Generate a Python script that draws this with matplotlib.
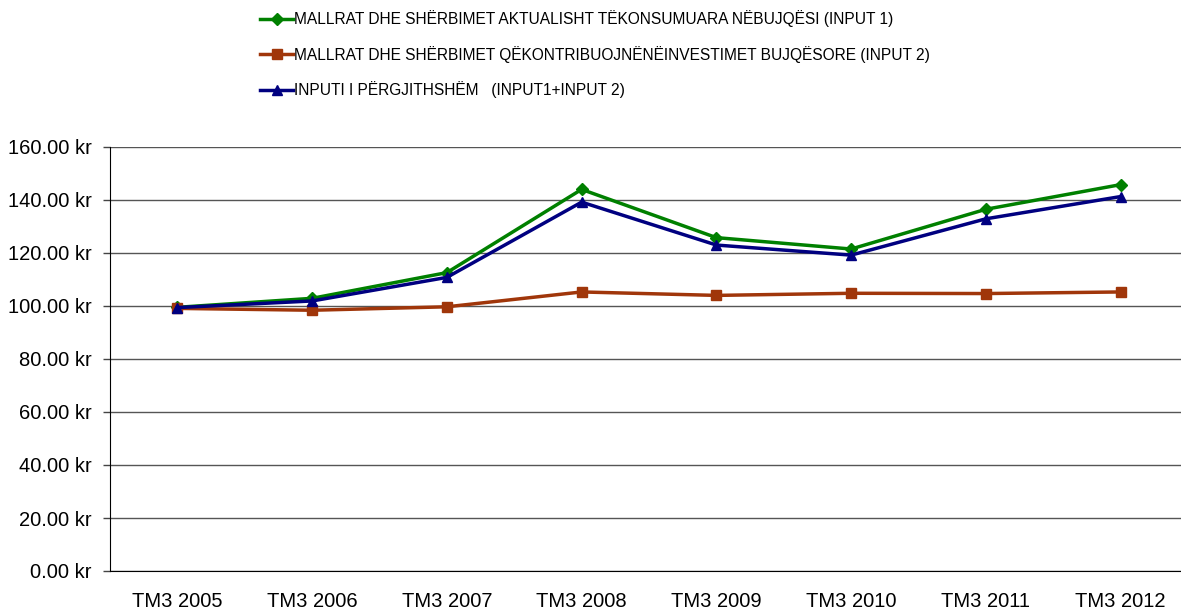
import matplotlib.pyplot as plt

categories = ['TM3 2005', 'TM3 2006', 'TM3 2007', 'TM3 2008',
              'TM3 2009', 'TM3 2010', 'TM3 2011', 'TM3 2012']
input1 = [99.5, 102.9, 112.6, 144.0, 125.8, 121.5, 136.5, 145.8]
input2 = [99.1, 98.4, 99.7, 105.3, 104.0, 104.8, 104.7, 105.3]
total = [99.4, 101.9, 110.8, 139.2, 123.0, 119.2, 132.9, 141.3]
labels = [
    'MALLRAT DHE SHËRBIMET AKTUALISHT TËKONSUMUARA NËBUJQËSI (INPUT 1)',
    'MALLRAT DHE SHËRBIMET QËKONTRIBUOJNËNËINVESTIMET BUJQËSORE (INPUT 2)',
    'INPUTI I PËRGJITHSHËM   (INPUT1+INPUT 2)',
]

plt.rcParams['font.family'] = ['Liberation Sans', 'DejaVu Sans']

fig = plt.figure(figsize=(11.81, 6.09), dpi=100)
ax = fig.add_axes([110 / 1181, 1 - 571 / 609, 1078 / 1181, 424 / 609])

x = range(len(categories))
ax.plot(x, input1, color='#008000', lw=2.5, marker='D', ms=6, label=labels[0], zorder=3)
ax.plot(x, input2, color='#A0360A', lw=2.5, marker='s', ms=6.5, label=labels[1], zorder=3)
ax.plot(x, total, color='#000080', lw=2.5, marker='^', ms=7.5, label=labels[2], zorder=4)

ax.set_xlim(-0.5, len(categories) - 0.5)
ax.set_ylim(0, 160)
ax.set_yticks(range(0, 161, 20))
ax.set_yticklabels([f'{v:.2f} kr' for v in range(0, 161, 20)])
ax.set_xticks(list(x))
ax.set_xticklabels(categories)
ax.tick_params(axis='y', labelsize=14.5, length=5, width=1, color='#444444', pad=8)
ax.tick_params(axis='x', labelsize=14.5, length=0, pad=15)
ax.grid(axis='y', color='#555555', lw=1)
ax.set_axisbelow(True)
for s in ['top', 'right']:
    ax.spines[s].set_visible(False)
ax.spines['left'].set_color('black')
ax.spines['bottom'].set_color('black')

fig.legend(loc='upper left', bbox_to_anchor=(254 / 1181, 1 - 4 / 609),
           frameon=False, prop={'size': 11.2},
           handlelength=2.1, handletextpad=0.05, labelspacing=1.2, borderaxespad=0)

fig.savefig('out.png', dpi=100)
